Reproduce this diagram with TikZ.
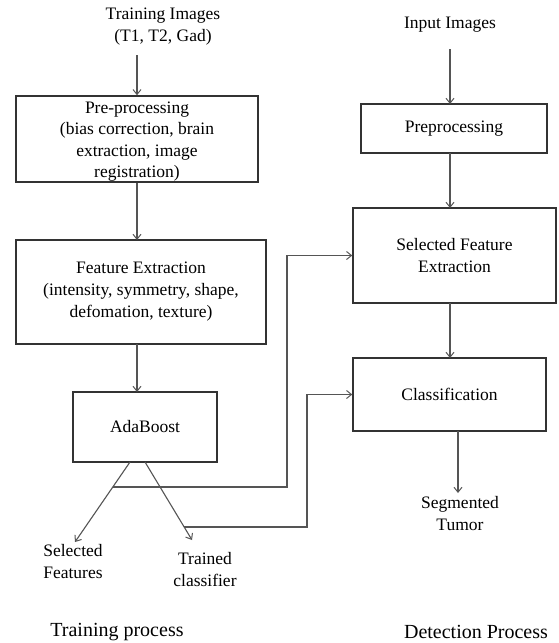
\documentclass[tikz,border=0pt]{standalone}
\usepackage{fontspec}
\setmainfont{Liberation Serif}
\usetikzlibrary{arrows.meta}
\definecolor{boxc}{HTML}{333333}
\definecolor{linec}{HTML}{555555}
\tikzset{
  box/.style={draw=boxc, line width=1.4pt, rectangle, align=center, inner sep=0pt,
    font=\fontsize{17.5}{22}\selectfont},
  lbl/.style={align=center, inner sep=0pt, font=\fontsize{17.5}{22}\selectfont},
  captext/.style={inner sep=0pt, font=\fontsize{20}{24}\selectfont},
  conn/.style={draw=linec, line width=1.1pt},
  arr/.style={conn, -{Straight Barb[length=5pt,width=8pt,line width=1pt]}}
}
\begin{document}
\begin{tikzpicture}[x=1pt,y=-1pt]
\useasboundingbox (0,0) rectangle (558,643);
% Training side
\node[lbl] (train) at (163,27) {Training Images\\(T1, T2, Gad)};
\node[box, minimum width=242pt, minimum height=86pt] (pre) at (137,139) {};
\node[lbl, font=\fontsize{17.5}{21.5}\selectfont] (pretext) at (137,141.5)
  {Pre-processing\\(bias correction, brain\\extraction, image\\registration)};
\node[box, minimum width=250pt, minimum height=104pt] (fe) at (141,292)
  {Feature Extraction\\(intensity, symmetry, shape,\\defomation, texture)};
\node[box, minimum width=144pt, minimum height=70pt] (ada) at (145,427) {AdaBoost};
\node[lbl, align=left] (sf) at (73,562) {Selected\\Features};
\node[lbl] (tc) at (205,570) {Trained\\classifier};
\node[captext] (tp) at (117,632) {Training process};
% Detection side
\node[lbl] (input) at (450,25) {Input Images};
\node[box, minimum width=186pt, minimum height=49pt] (inpre) at (454,128.5) {Preprocessing};
\node[box, minimum width=203pt, minimum height=95pt] (sfe) at (454.5,255.5) {Selected Feature\\Extraction};
\node[box, minimum width=193pt, minimum height=73pt] (cls) at (449.5,394.5) {Classification};
\node[lbl] (seg) at (460,514) {Segmented\\Tumor};
\node[captext] (dp) at (476,632) {Detection Process};
% coordinates
\coordinate (a1) at (130,462);
\coordinate (a2) at (145,462);
\coordinate (sft) at (75,542);
\coordinate (tct) at (192,540);
\coordinate (j1) at (112.8,487);
\coordinate (k1) at (287,487);
\coordinate (j2) at (184,527);
\coordinate (k2) at (307,527);
\coordinate (in1) at (450,49);
% arrows training
\draw[arr] (137,55) -- (pre.north);
\draw[arr] (pre.south) -- (137,240);
\draw[arr] (137,344) -- (137,392);
\draw[arr] (a1) -- (sft);
\draw[arr] (a2) -- (tct);
% arrows detection
\draw[arr] (in1) -- (450,104);
\draw[arr] (450,153) -- (450,208);
\draw[arr] (450,303) -- (450,358);
\draw[arr] (458,431) -- (458,493);
% cross connectors
\draw[arr] (j1) -- (k1) |- (sfe.west);
\draw[arr] (j2) -- (k2) |- (cls.west);
\end{tikzpicture}
\end{document}
